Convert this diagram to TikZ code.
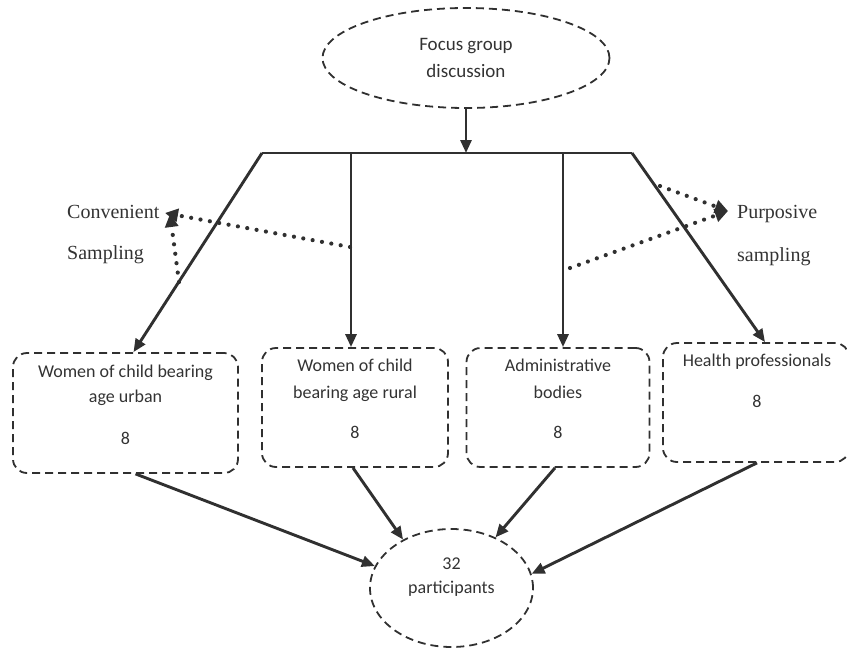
\documentclass[tikz,border=0pt]{standalone}
\usepackage{fontspec}
\setmainfont{Liberation Serif}
\newfontfamily\boxfont{Carlito}
\usetikzlibrary{arrows.meta,shapes.geometric}
\definecolor{ink}{HTML}{303030}
\definecolor{txtc}{HTML}{333333}
\begin{document}
\begin{tikzpicture}[x=1pt,y=-1pt,
  mainline/.style={draw=ink, line width=2.9pt, -{Triangle[length=13pt,width=11pt]}},
  barline/.style={draw=ink, line width=2.9pt},
  dotline/.style={draw=ink, line width=4.2pt, line cap=round, dash pattern=on 0pt off 9.5pt,
                  -{Triangle[length=13pt,width=13pt]}},
  dashbox/.style={rectangle, draw=ink, line width=1.8pt, dash pattern=on 8pt off 5pt, rounded corners=14pt, inner sep=0pt},
  dashell/.style={ellipse, draw=ink, line width=1.8pt, dash pattern=on 8pt off 5pt, inner sep=0pt},
  boxtxt/.style={font=\boxfont\fontsize{18}{27}\selectfont, text=txtc, align=center, inner sep=0pt},
  sidetxt/.style={font=\fontsize{20}{24}\selectfont, text=txtc, inner sep=0pt, anchor=base west}
]
\useasboundingbox (0,0) rectangle (847,648);

% top ellipse
\node[dashell, minimum width=287pt, minimum height=100pt, boxtxt,
      font=\boxfont\fontsize{19}{27}\selectfont] (focus) at (466,58) {Focus group\\discussion};

% bar
\coordinate (bl) at (262,153);
\coordinate (br) at (632,153);
\coordinate (bm) at (466,153);
\coordinate (b2) at (351,153);
\coordinate (b3) at (563,153);
\draw[mainline] (focus.south) -- (bm);
\draw[barline] (bl) -- (br);

% boxes
\node[dashbox, minimum width=225pt, minimum height=120pt] (box1) at (125.5,413) {};
\node[dashbox, minimum width=186pt, minimum height=119pt] (box2) at (355,407.5) {};
\node[dashbox, minimum width=183pt, minimum height=119pt] (box3) at (558,407.5) {};
\node[dashbox, minimum width=186pt, minimum height=119pt] (box4) at (756,402.5) {};

\node[boxtxt, font=\boxfont\fontsize{18}{25}\selectfont] (t1) at (125.5,405) {Women of child bearing\\age urban\\[17pt]8};
\node[boxtxt] (t2) at (355,399) {Women of child\\bearing age rural\\[13pt]8};
\node[boxtxt] (t3) at (558,399) {Administrative\\bodies\\[13pt]8};
\node[boxtxt] (t4) at (757,381) {Health professionals\\[14pt]8};

% branch arrows
\draw[mainline] (bl) -- ([xshift=8pt]box1.north);
\draw[mainline] (b2) -- (box2.north -| b2);
\draw[mainline] (b3) -- (box3.north -| b3);
\draw[mainline] (br) -- ([xshift=9pt]box4.north);

% bottom ellipse
\node[dashell, minimum width=163pt, minimum height=118pt] (part) at (451.5,588) {};
\node[boxtxt, font=\boxfont\fontsize{18}{24}\selectfont] (pt) at (451.5,577) {32\\participants};

\draw[mainline] ([xshift=10pt]box1.south) -- (part.164);
\draw[mainline] ([xshift=-2pt]box2.south) -- (part.135);
\draw[mainline] ([xshift=-3pt]box3.south) -- (part.49);
\draw[mainline] ([xshift=1pt]box4.south) -- (part.10);

% sampling labels
\node[sidetxt] (conv) at (67,218) {Convenient};
\node[sidetxt] (conv2) at (67,259) {Sampling};
\node[sidetxt] (purp) at (737,218) {Purposive};
\node[sidetxt] (purp2) at (737,261) {sampling};

% dotted arrows
\coordinate (ctip) at (165,213);
\coordinate (ctip2) at (170,214);
\coordinate (ca) at (350,247);
\coordinate (cb) at (179,282);
\coordinate (ptip) at (728,211);
\coordinate (pa) at (660,186);
\coordinate (pb) at (570,268);
\draw[dotline] (ca) -- (ctip);
\draw[dotline] (cb) -- (ctip2);
\draw[dotline] (pa) -- (ptip);
\draw[dotline] (pb) -- (ptip);
\end{tikzpicture}
\end{document}
